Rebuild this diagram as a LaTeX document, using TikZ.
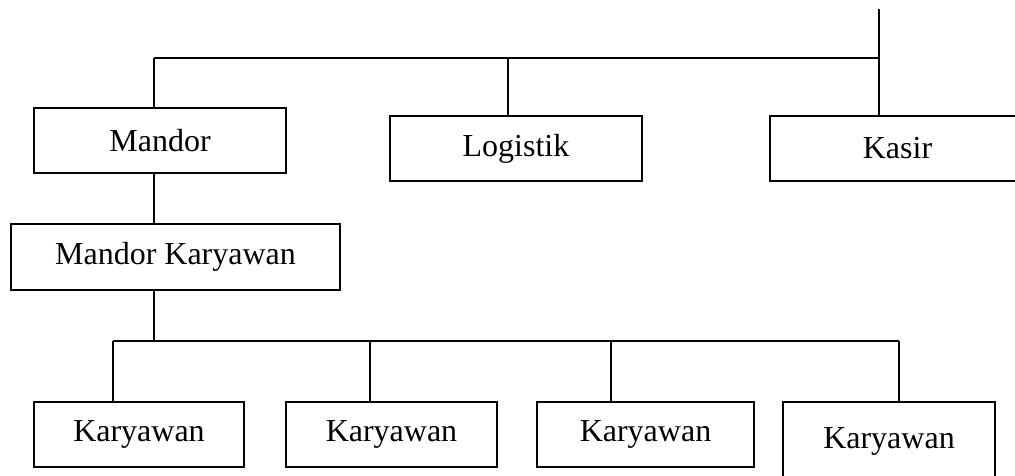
\documentclass[tikz,border=0pt]{standalone}
\usepackage{fontspec}
\setmainfont{Liberation Serif}
\begin{document}
\begin{tikzpicture}[x=1pt,y=-1pt,
  box/.style={draw,line width=1.2pt,inner sep=0pt,font=\fontsize{32}{38}\selectfont},
  link/.style={line width=1.2pt}]
\useasboundingbox (0,0) rectangle (1015,475);
\clip (0,0) rectangle (1015,475);
\node[box,minimum width=252pt,minimum height=65pt] (mandor) at (160,140.5) {Mandor};
\node[box,minimum width=252pt,minimum height=65pt] (logistik) at (516,148.5) {Logistik};
\node[box,minimum width=255pt,minimum height=65pt] (kasir) at (897.5,148.5) {Kasir};
\node[box,minimum width=329pt,minimum height=66pt] (mk) at (175.5,257) {Mandor Karyawan};
\node[box,minimum width=210pt,minimum height=65pt] (k1) at (139,434.5) {Karyawan};
\node[box,minimum width=211pt,minimum height=65pt] (k2) at (391.5,434.5) {Karyawan};
\node[box,minimum width=217pt,minimum height=65pt] (k3) at (645.5,434.5) {Karyawan};
\node[box,minimum width=212pt,minimum height=79pt] (k4) at (889,441.5) {Karyawan};
% top bus
\coordinate (top) at (879,9);
\coordinate (tr) at (879,58);
\coordinate (tl) at (154,58);
\coordinate (tm) at (508,58);
\draw[link] (top) -- (tr);
\draw[link] (tl) -- (tr);
\draw[link] (tl) -- (tl |- mandor.north);
\draw[link] (tm) -- (tm |- logistik.north);
\draw[link] (tr) -- (tr |- kasir.north);
\draw[link] (mandor.south -| tl) -- (mk.north -| tl);
% bottom bus
\coordinate (bc) at (154,341);
\coordinate (b1) at (113,341);
\coordinate (b2) at (370,341);
\coordinate (b3) at (611,341);
\coordinate (b4) at (899,341);
\draw[link] (mk.south -| bc) -- (bc);
\draw[link] (b1) -- (b4);
\draw[link] (b1) -- (b1 |- k1.north);
\draw[link] (b2) -- (b2 |- k2.north);
\draw[link] (b3) -- (b3 |- k3.north);
\draw[link] (b4) -- (b4 |- k4.north);
\end{tikzpicture}
\end{document}
